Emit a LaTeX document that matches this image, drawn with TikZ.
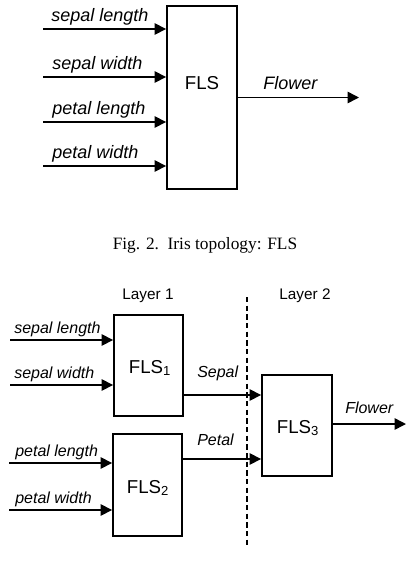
\documentclass[tikz,border=0pt]{standalone}
\usepackage{fontspec}
\setmainfont{Liberation Serif}
\setsansfont{Liberation Sans}
\usetikzlibrary{arrows.meta, positioning, calc}
\tikzset{
    flsbox/.style={
        rectangle, draw=black, line width=1.4pt,
        inner sep=0pt, fill=white
    },
    flstext/.style={font=\sffamily\fontsize{14}{16}\selectfont},
    inlabel/.style={
        font=\sffamily\itshape\fontsize{13.5}{16}\selectfont,
        anchor=base west, inner sep=0pt
    },
    smalllabel/.style={
        font=\sffamily\itshape\fontsize{12}{14}\selectfont,
        anchor=base west, inner sep=0pt
    },
    layerlabel/.style={font=\sffamily\fontsize{11.5}{14}\selectfont},
    arr/.style={-{Triangle[length=8.5pt, width=8.5pt]}, line width=1.15pt}
}

\begin{document}
\begin{tikzpicture}[x=0.75pt, y=-0.75pt]

    \useasboundingbox (0,0) rectangle (406,562);

    % --- Fig. 2: single FLS ---
    \node[flsbox, minimum width=52.5pt, minimum height=137.25pt] (fls) at (202,97.5) {};
    \node[flstext] (flsname) at (202,83) {FLS};

    \coordinate (sl) at (43,29);
    \coordinate (sw) at (43,77);
    \coordinate (pl) at (43,122);
    \coordinate (pw) at (43,166);
    \coordinate (flower) at (359,97.5);

    \node[inlabel] (sltxt) at (51,21)  {sepal length};
    \node[inlabel] (swtxt) at (52,69)  {sepal width};
    \node[inlabel] (pltxt) at (52,114) {petal length};
    \node[inlabel] (pwtxt) at (52,158) {petal width};
    \node[inlabel] (flowertxt) at (263,89) {Flower};

    \draw[arr] (sl) -- (sl -| fls.west);
    \draw[arr] (sw) -- (sw -| fls.west);
    \draw[arr] (pl) -- (pl -| fls.west);
    \draw[arr] (pw) -- (pw -| fls.west);
    \draw[arr] (fls.east) -- (flower);

    \node[font=\fontsize{13}{15}\selectfont, anchor=base] (caption) at (205,249)
        {Fig. 2.\ \ Iris topology: FLS};

    % --- Fig. 3: two layers ---
    \node[layerlabel] (layer1) at (148,296) {Layer 1};
    \node[layerlabel] (layer2) at (305,296) {Layer 2};
    \coordinate (divtop) at (247,297);
    \coordinate (divbot) at (247,547);
    \draw[line width=0.9pt, dash pattern=on 4pt off 2.5pt] (divtop) -- (divbot);

    \node[flsbox, minimum width=51.75pt, minimum height=75.75pt] (fls1) at (148.5,365.5) {};
    \node[flsbox, minimum width=51.75pt, minimum height=76.5pt]  (fls2) at (147.5,485) {};
    \node[flsbox, minimum width=52.5pt,  minimum height=75.75pt] (fls3) at (297,425.5) {};
    \node[flstext] (fls1name) at (150,368) {FLS\textsubscript{1}};
    \node[flstext] (fls2name) at (148,488) {FLS\textsubscript{2}};
    \node[flstext] (fls3name) at (298,428) {FLS\textsubscript{3}};

    \coordinate (sl2) at (10,340);
    \coordinate (sw2) at (10,385);
    \coordinate (pl2) at (9,463);
    \coordinate (pw2) at (9,510);
    \coordinate (sepal) at (183,395);
    \coordinate (petal) at (182,459);
    \coordinate (flower2) at (406,424);

    \node[smalllabel] (sl2txt) at (14,333) {sepal length};
    \node[smalllabel] (sw2txt) at (14,378) {sepal width};
    \node[smalllabel] (pl2txt) at (15,456) {petal length};
    \node[smalllabel] (pw2txt) at (15,503) {petal width};
    \node[smalllabel] (sepaltxt) at (197,377) {Sepal};
    \node[smalllabel] (petaltxt) at (197,445) {Petal};
    \node[smalllabel] (flower2txt) at (345,413) {Flower};

    \draw[arr] (sl2) -- (sl2 -| fls1.west);
    \draw[arr] (sw2) -- (sw2 -| fls1.west);
    \draw[arr] (pl2) -- (pl2 -| fls2.west);
    \draw[arr] (pw2) -- (pw2 -| fls2.west);
    \draw[arr] (sepal) -- (sepal -| fls3.west);
    \draw[arr] (petal) -- (petal -| fls3.west);
    \draw[arr] (fls3.east |- flower2) -- (flower2);

\end{tikzpicture}
\end{document}
